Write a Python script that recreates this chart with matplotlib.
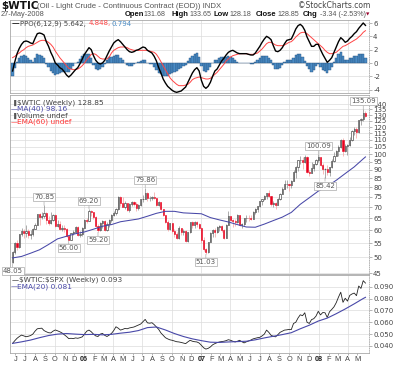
import numpy as np
import matplotlib
matplotlib.use('Agg')
import matplotlib.pyplot as plt
import matplotlib.dates as mdates

# weekly bars, $WTIC (oil), late May 2005 .. 27 May 2008
closes = [51.85, 55.03, 53.54, 58.47, 59.84, 58.75, 59.63, 58.09, 58.65, 60.57,
          62.31, 66.86, 65.36, 66.13, 67.57, 64.08, 63.00, 64.19, 66.24, 61.84,
          62.63, 60.52, 61.09, 60.58, 57.53, 56.14, 58.71, 59.32, 61.37, 58.06,
          58.43, 61.04, 64.21, 63.92, 68.35, 67.76, 65.37, 61.84, 59.88, 62.91,
          63.67, 60.00, 62.70, 64.26, 66.63, 67.39, 69.32, 75.17, 71.88, 70.19,
          72.04, 68.53, 71.37, 72.33, 71.63, 69.85, 70.87, 73.93, 74.09, 77.03,
          74.43, 74.54, 74.76, 74.35, 71.14, 72.51, 69.20, 66.25, 63.33, 60.55,
          62.91, 59.76, 58.57, 56.82, 60.75, 59.14, 59.58, 55.81, 59.24, 63.43,
          62.03, 63.43, 62.41, 61.05, 56.31, 52.99, 51.99, 55.42, 59.02, 59.89,
          59.39, 61.14, 61.64, 60.05, 57.11, 62.28, 65.87, 64.28, 63.63, 63.38,
          66.46, 61.93, 62.37, 64.94, 65.20, 65.08, 64.76, 68.00, 69.18, 70.68,
          72.81, 73.93, 75.57, 77.02, 75.48, 71.47, 71.98, 71.09, 74.04, 76.70,
          79.10, 81.62, 81.66, 81.22, 83.69, 88.60, 91.86, 95.93, 96.32, 95.10,
          98.18, 88.71, 88.28, 91.27, 93.31, 96.00, 97.91, 92.69, 90.57, 90.71,
          88.96, 91.77, 95.50, 98.81, 101.84, 105.15, 110.21, 101.84, 105.62, 106.23,
          110.14, 116.69, 118.52, 116.32, 125.96, 126.29, 132.19, 128.85]

highs = [52.2, 55.5, 56.0, 58.6, 60.95, 60.5, 62.1, 60.3, 59.9, 60.9,
         63.0, 67.1, 67.3, 68.0, 70.85, 67.9, 65.8, 68.0, 67.1, 66.8,
         64.2, 64.0, 62.3, 62.1, 61.0, 58.1, 58.9, 59.9, 61.6, 61.8,
         59.5, 61.3, 64.8, 65.3, 69.20, 68.5, 67.9, 65.8, 62.5, 63.5,
         64.2, 64.3, 63.6, 64.7, 66.9, 68.4, 69.6, 75.4, 75.3, 75.0,
         73.0, 72.1, 71.9, 73.1, 73.2, 72.3, 71.4, 74.1, 75.8, 79.86,
         77.5, 75.3, 75.6, 77.3, 74.4, 73.2, 72.7, 69.4, 66.4, 64.1,
         63.1, 63.0, 60.6, 59.1, 61.6, 60.9, 60.6, 60.0, 59.4, 63.5,
         64.0, 63.8, 64.0, 63.0, 61.5, 57.3, 53.2, 55.6, 59.2, 60.3,
         60.8, 61.8, 62.3, 62.0, 60.3, 62.6, 68.1, 66.0, 64.5, 64.6,
         66.8, 66.6, 63.1, 65.2, 66.4, 66.3, 66.6, 68.1, 69.6, 70.7,
         72.9, 74.0, 75.9, 77.2, 78.8, 75.5, 73.0, 72.5, 74.3, 77.2,
         80.4, 83.9, 83.8, 82.0, 84.1, 90.1, 92.2, 96.2, 98.6, 98.1,
         99.3, 98.5, 89.8, 94.8, 93.6, 96.8, 100.09, 98.0, 94.2, 91.1,
         92.8, 92.0, 96.7, 101.3, 103.1, 106.5, 110.7, 111.8, 107.1, 107.4,
         112.2, 117.8, 119.9, 119.8, 126.2, 127.8, 135.09, 133.65]

lows = [48.05, 51.2, 52.6, 53.2, 57.6, 57.0, 57.3, 56.9, 56.7, 57.8,
        60.3, 62.0, 62.3, 64.5, 65.3, 62.5, 62.2, 62.5, 63.7, 61.5,
        61.2, 60.2, 59.8, 59.3, 57.2, 56.00, 56.1, 57.9, 59.1, 57.8,
        57.3, 57.8, 60.9, 62.8, 63.7, 66.0, 64.8, 61.3, 59.20, 59.6,
        61.0, 59.6, 59.8, 61.2, 63.5, 65.9, 66.5, 68.8, 70.6, 69.9,
        69.2, 68.2, 68.0, 70.5, 70.4, 68.2, 68.8, 70.8, 72.6, 73.9,
        73.2, 73.0, 73.6, 73.8, 70.8, 70.4, 68.5, 65.9, 63.0, 59.5,
        60.2, 58.9, 57.4, 56.6, 56.6, 57.9, 58.2, 55.4, 55.5, 59.0,
        60.9, 60.8, 61.4, 60.3, 55.0, 52.1, 51.03, 51.6, 55.3, 57.3,
        57.2, 58.9, 59.8, 59.4, 56.6, 57.0, 62.0, 63.8, 61.3, 61.6,
        62.8, 61.8, 60.9, 61.7, 63.6, 63.9, 64.3, 64.5, 67.0, 67.9,
        70.0, 71.2, 73.3, 74.2, 74.9, 70.6, 70.1, 69.0, 70.9, 73.4,
        76.4, 79.0, 79.6, 78.0, 79.6, 83.5, 85.3, 89.5, 93.7, 90.7,
        94.0, 88.1, 86.2, 88.0, 89.3, 92.7, 95.0, 92.1, 87.3, 85.42,
        86.9, 86.1, 91.3, 95.0, 98.6, 98.7, 104.4, 98.7, 101.5, 99.6,
        105.6, 109.5, 114.0, 111.8, 115.4, 122.0, 124.6, 128.18]

# PPO(6,12,9) and its signal line
ppo = [-1.2, 0.2, 1.4, 2.2, 2.8, 3.2, 3.3, 3.2, 3.0, 2.9,
       3.7, 4.4, 4.5, 4.4, 4.2, 3.2, 2.5, 1.6, 0.9, 0.0,
       -0.3, -0.7, -0.9, -1.3, -1.8, -2.1, -1.8, -1.4, -1.0, -0.7,
       -0.1, 0.6, 1.3, 1.8, 2.3, 2.0, 1.1, 0.4, 0.0, -0.15,
       0.0, 0.4, 1.1, 1.8, 2.4, 3.0, 3.3, 3.5, 3.2, 2.8,
       2.4, 2.0, 1.7, 1.6, 1.7, 1.9, 2.0, 2.2, 2.4, 2.3,
       1.9, 1.7, 1.5, 1.0, 0.3, -0.7, -1.5, -2.4, -3.0, -3.5,
       -3.8, -4.1, -4.3, -4.4, -4.3, -4.2, -3.9, -3.6, -2.9, -2.2,
       -1.5, -1.0, -0.7, -1.2, -2.6, -3.5, -3.8, -3.5, -2.9, -2.0,
       -1.2, -0.9, -0.3, 0.3, 0.7, 1.2, 1.6, 1.8, 1.9, 1.7,
       1.5, 1.4, 1.4, 1.4, 1.4, 1.3, 1.2, 1.2, 1.5, 2.0,
       2.5, 3.1, 3.6, 4.0, 3.8, 3.5, 2.6, 1.8, 1.7, 1.9,
       2.3, 2.9, 3.4, 3.5, 3.6, 4.3, 5.1, 5.6, 5.8, 5.5,
       4.9, 3.9, 3.2, 2.5, 2.5, 2.8, 2.8, 2.0, 1.3, 0.7,
       0.1, 0.4, 0.8, 1.6, 2.4, 3.2, 3.8, 3.5, 3.1, 3.3,
       3.7, 4.0, 4.4, 4.7, 5.2, 5.6, 6.0, 5.642]

ppo_signal = [0.8, 1.0, 1.3, 1.5, 1.8, 2.0, 2.3, 2.5, 2.6, 2.7,
              2.9, 3.1, 3.3, 3.4, 3.4, 3.3, 3.1, 2.8, 2.4, 1.8,
              1.3, 0.8, 0.4, 0.0, -0.4, -0.8, -0.9, -1.0, -1.0, -0.9,
              -0.7, -0.4, 0.0, 0.5, 0.9, 1.3, 1.4, 1.3, 1.0, 0.7,
              0.6, 0.6, 0.6, 0.9, 1.5, 1.9, 2.1, 2.3, 2.4, 2.4,
              2.4, 2.3, 2.1, 2.0, 1.9, 1.9, 1.9, 1.9, 1.9, 1.9,
              1.9, 1.8, 1.7, 1.6, 1.3, 0.8, 0.2, -0.4, -1.0, -1.6,
              -2.2, -2.6, -2.9, -3.2, -3.4, -3.4, -3.4, -3.3, -3.2, -2.9,
              -2.5, -2.3, -2.2, -2.1, -2.2, -2.3, -2.4, -2.4, -2.3, -2.0,
              -1.7, -1.4, -1.0, -0.6, -0.2, 0.3, 0.6, 0.9, 1.1, 1.2,
              1.3, 1.4, 1.4, 1.4, 1.4, 1.3, 1.3, 1.3, 1.4, 1.5,
              1.8, 2.1, 2.5, 2.9, 3.1, 3.1, 2.9, 2.7, 2.6, 2.6,
              2.6, 2.7, 2.9, 3.1, 3.2, 3.5, 3.9, 4.2, 4.5, 4.6,
              4.6, 4.4, 4.1, 3.8, 3.5, 3.2, 2.9, 2.6, 2.3, 1.9,
              1.6, 1.4, 1.4, 1.5, 1.6, 1.9, 2.2, 2.5, 2.6, 2.8,
              3.0, 3.2, 3.4, 3.6, 3.9, 4.2, 4.6, 4.848]

# $WTIC:$SPX ratio, weekly
ratio = [0.0422, 0.0445, 0.0465, 0.0480, 0.0492, 0.0485, 0.0478, 0.0482, 0.0488, 0.0500,
         0.0525, 0.0545, 0.0548, 0.0550, 0.0530, 0.0520, 0.0512, 0.0510, 0.0525, 0.0535,
         0.0528, 0.0520, 0.0510, 0.0495, 0.0480, 0.0462, 0.0465, 0.0462, 0.0468, 0.0465,
         0.0470, 0.0477, 0.0500, 0.0525, 0.0534, 0.0520, 0.0500, 0.0485, 0.0480, 0.0500,
         0.0506, 0.0490, 0.0480, 0.0492, 0.0506, 0.0530, 0.0562, 0.0550, 0.0534, 0.0540,
         0.0548, 0.0545, 0.0552, 0.0556, 0.0560, 0.0568, 0.0575, 0.0585, 0.0605, 0.0624,
         0.0595, 0.0592, 0.0596, 0.0580, 0.0560, 0.0540, 0.0510, 0.0490, 0.0470, 0.0460,
         0.0452, 0.0448, 0.0442, 0.0436, 0.0434, 0.0430, 0.0425, 0.0420, 0.0435, 0.0448,
         0.0440, 0.0436, 0.0434, 0.0425, 0.0406, 0.0385, 0.0374, 0.0380, 0.0392, 0.0410,
         0.0420, 0.0428, 0.0434, 0.0437, 0.0440, 0.0445, 0.0453, 0.0448, 0.0440, 0.0434,
         0.0440, 0.0448, 0.0436, 0.0426, 0.0435, 0.0442, 0.0450, 0.0460, 0.0465, 0.0470,
         0.0473, 0.0485, 0.0500, 0.0534, 0.0515, 0.0490, 0.0482, 0.0477, 0.0495, 0.0515,
         0.0525, 0.0534, 0.0536, 0.0540, 0.0538, 0.0590, 0.0600, 0.0636, 0.0663, 0.0655,
         0.0680, 0.0600, 0.0590, 0.0622, 0.0630, 0.0652, 0.0692, 0.0662, 0.0682, 0.0680,
         0.0640, 0.0688, 0.0708, 0.0730, 0.0765, 0.0812, 0.0853, 0.0768, 0.0802, 0.0778,
         0.0826, 0.0838, 0.0846, 0.0824, 0.0905, 0.0885, 0.0950, 0.0930]

# MA(40) of price and EMA(20) of ratio, every 4th week plus the last one
avg_weeks = list(range(0, 157, 4)) + [157]
ma40 = [49.8, 50.3, 51.4, 52.6, 54.5, 56.6, 57.6, 58.6, 59.3, 60.4,
        61.6, 62.3, 63.5, 64.1, 64.7, 65.9, 67.2, 68.1, 68.1, 67.4,
        67.2, 67.0, 65.3, 64.3, 63.4, 62.3, 61.3, 61.2, 62.5, 64.0,
        65.5, 67.6, 71.4, 74.6, 78.0, 80.6, 83.9, 87.8, 91.8, 96.9,
        98.16]
ema20 = [0.0422, 0.0435, 0.0450, 0.0470, 0.0488, 0.0500, 0.0505, 0.0500, 0.0496, 0.0498,
         0.0494, 0.0498, 0.0508, 0.0516, 0.0530, 0.0555, 0.0560, 0.0535, 0.0505, 0.0480,
         0.0460, 0.0445, 0.0432, 0.0430, 0.0434, 0.0437, 0.0440, 0.0452, 0.0468, 0.0482,
         0.0496, 0.0512, 0.0545, 0.0575, 0.0610, 0.0635, 0.0672, 0.0712, 0.0755, 0.0800,
         0.0810]

month_labels = ['J', 'J', 'A', 'S', 'O', 'N', 'D', '06', 'F', 'M', 'A', 'M',
                'J', 'J', 'A', 'S', 'O', 'N', 'D', '07', 'F', 'M', 'A', 'M',
                'J', 'J', 'A', 'S', 'O', 'N', 'D', '08', 'F', 'M', 'A', 'M']

# bars that carry a high / low label
marked_weeks = [0, 14, 25, 34, 38, 59, 86, 136, 139, 156]
marked_high = [False, True, False, True, False, True, False, True, False, True]

plt.rcParams['font.family'] = 'DejaVu Sans'

weeks = np.arange(np.datetime64('2005-05-23'), np.datetime64('2008-06-02'), np.timedelta64(7, 'D'))
x = mdates.date2num(weeks)
months = mdates.date2num(np.arange(np.datetime64('2005-06'), np.datetime64('2008-06'),
                                   dtype='datetime64[M]').astype('datetime64[D]'))
quarters = mdates.date2num(np.arange(np.datetime64('2005-07'), np.datetime64('2008-06'),
                                     np.timedelta64(3, 'M')).astype('datetime64[D]'))
xlim = mdates.date2num(np.array(['2005-05-15', '2008-06-06'], dtype='datetime64[D]'))

c = np.array(closes)
o = np.array([48.60] + closes[:-1])
o[-1] = 131.68
hi = np.array(highs)
lo = np.array(lows)

W, H = 400, 365
fig = plt.figure(figsize=(4, 3.65), dpi=100)
fig.patch.set_facecolor('white')

ax_ppo = fig.add_axes([10 / W, 1 - 93 / H, 359 / W, 73 / H])
ax_px = fig.add_axes([10 / W, 1 - 274 / H, 359 / W, 179 / H])
ax_r = fig.add_axes([10 / W, 1 - 353 / H, 359 / W, 78 / H])

grid_c = '#dcdcdc'


def style(ax):
    for s in ax.spines.values():
        s.set_color('#a8a8a8')
        s.set_linewidth(0.6)
    ax.spines['right'].set_linestyle(':')
    ax.yaxis.tick_right()
    ax.tick_params(axis='y', labelsize=5, labelcolor='#444444', color='#999999',
                   length=2, width=0.5, pad=1.0)
    ax.tick_params(axis='x', length=0, labelbottom=False)
    ax.grid(axis='y', color=grid_c, lw=0.5)
    ax.set_axisbelow(True)
    for q in quarters:
        ax.axvline(q, color=grid_c, lw=0.5, zorder=0)
    ax.set_xlim(*xlim)


# PPO panel
style(ax_ppo)
hist = np.array(ppo) - np.array(ppo_signal)
ax_ppo.bar(x, hist, width=7, color='#4a8cc6', edgecolor='#24507d', lw=0.3, zorder=2)
ax_ppo.plot(x, ppo_signal, color='#ff4444', lw=0.7, zorder=3)
ax_ppo.plot(x, ppo, color='black', lw=1.0, zorder=4)
ax_ppo.set_ylim(-4.5, 6.45)
ppo_ticks = [-4, -2, 0, 2, 4, 6]
ax_ppo.set_yticks(ppo_ticks)
ax_ppo.set_yticklabels([str(t) for t in ppo_ticks])

# price panel
style(ax_px)
ax_px.set_yscale('log')
up = c >= o
ax_px.vlines(x[up], lo[up], hi[up], color='#8a8a8a', lw=0.5, zorder=2)
ax_px.vlines(x[~up], lo[~up], hi[~up], color='#f3a0a0', lw=0.5, zorder=2)
b_lo = np.minimum(o, c)
b_h = np.maximum(np.abs(c - o), 0.15)
ax_px.bar(x[up], b_h[up], bottom=b_lo[up], width=3.6, facecolor='white',
          edgecolor='#222222', lw=0.4, zorder=3)
ax_px.bar(x[~up], b_h[~up], bottom=b_lo[~up], width=3.6, facecolor='#e8001c',
          edgecolor='#e8001c', lw=0.4, zorder=3)
ax_px.plot(x[avg_weeks], ma40, color='#4848a8', lw=0.75, zorder=4)
ax_px.set_ylim(44.7, 148.8)
px_ticks = list(range(45, 141, 5))
ax_px.set_yticks(px_ticks)
ax_px.set_yticklabels([str(t) for t in px_ticks])
ax_px.minorticks_off()

for w, is_hi in zip(marked_weeks, marked_high):
    val = hi[w] if is_hi else lo[w]
    ax_px.annotate('%.2f' % val, xy=(x[w], val), xytext=(0, 5 if is_hi else -5),
                   textcoords='offset pixels', ha='center',
                   va='bottom' if is_hi else 'top', fontsize=5, color='#555555',
                   bbox=dict(boxstyle='square,pad=0.15', fc='white', ec='#aaaaaa', lw=0.5),
                   arrowprops=dict(arrowstyle='-', color='#999999', lw=0.4,
                                   shrinkA=0, shrinkB=0),
                   annotation_clip=False, zorder=6)

# ratio panel
style(ax_r)
ax_r.plot(x, ratio, color='#222222', lw=0.6, zorder=3)
ax_r.plot(x[avg_weeks], ema20, color='#4848a8', lw=0.8, zorder=4)
ax_r.set_ylim(0.0341, 0.0998)
r_ticks = [0.04, 0.05, 0.06, 0.07, 0.08, 0.09]
ax_r.set_yticks(r_ticks)
ax_r.set_yticklabels(['%.3f' % t for t in r_ticks])
ax_r.set_xticks(months)
ax_r.set_xticklabels(month_labels, family='Liberation Sans')
ax_r.tick_params(axis='x', labelbottom=True, labelsize=5.3, labelcolor='#444444',
                 color='#999999', length=1.5, width=0.5, pad=0.5)
for t in ax_r.get_xticklabels():
    if len(t.get_text()) == 2:
        t.set_fontweight('bold')
        t.set_color('#222222')


def ftext(xp, yp, s, **kw):
    kw.setdefault('fontsize', 5.5)
    kw.setdefault('va', 'center')
    fig.text(xp / W, 1 - yp / H, s, **kw)


# header
ftext(1, 6, r'\$WTIC', fontsize=7.5, fontweight='bold', color='#111111')
ftext(37, 6.5, '(Oil - Light Crude - Continuous Contract (EOD)) INDX',
      family='Liberation Sans', fontsize=5.6, color='#555555')
ftext(370, 6, '\u00a9StockCharts.com', ha='right', color='#444444', fontsize=5.5)
ftext(1, 15, '27-May-2008', color='#555555', fontsize=5.3, family='Liberation Sans')
for xp, s, bold in [(125, 'Open', True), (143.5, '131.68', False), (171, 'High', True),
                    (190, '133.65', False), (214, 'Low', True), (230, '128.18', False),
                    (256, 'Close', True), (278, '128.85', False), (303, 'Chg', True),
                    (319.5, '-3.34 (-2.53%)', False)]:
    ftext(xp, 15, s, fontweight='bold' if bold else 'normal', family='Liberation Sans',
          color='#111111' if bold else '#555555', fontsize=5.5 if bold else 5.1)
ftext(368, 15, '\u25bc', color='#99002a', fontsize=3.2, ha='center')

# panel legends
ftext(12, 23.5, '\u2014', color='black', fontsize=5.5)
ftext(20, 23.5, 'PPO(6,12,9) 5.642,', color='#444444', fontsize=5.0)
ftext(89, 23.5, '4.848,', color='#ff4444', fontsize=5.0)
ftext(111.5, 23.5, '0.794', color='#4a8cc6', fontsize=5.0)

ftext(12, 102.5, '\u2590', color='#555555', fontsize=4)
ftext(17, 102.5, r'\$WTIC (Weekly) 128.85', color='#444444', fontsize=5.3)
ftext(11, 109, '\u2014', color='#4848a8', fontsize=5)
ftext(17, 109, 'MA(40) 98.16', color='#4848a8', fontsize=5.3)
ftext(12, 115.5, '\u2590', color='#555555', fontsize=4)
ftext(17, 115.5, 'Volume undef', color='#444444', fontsize=5.3)
ftext(11, 122, '\u2014', color='#ff3333', fontsize=5)
ftext(17, 122, 'EMA(60) undef', color='#ff3333', fontsize=5.3)

ftext(12, 280, '\u2014', color='black', fontsize=5)
ftext(19, 280, r'\$WTIC:\$SPX (Weekly) 0.093', color='#444444', fontsize=5.3)
ftext(11, 286.5, '\u2014', color='#4848a8', fontsize=5)
ftext(17, 286.5, 'EMA(20) 0.081', color='#4848a8', fontsize=5.3)

fig.savefig('out.png', dpi=100)
